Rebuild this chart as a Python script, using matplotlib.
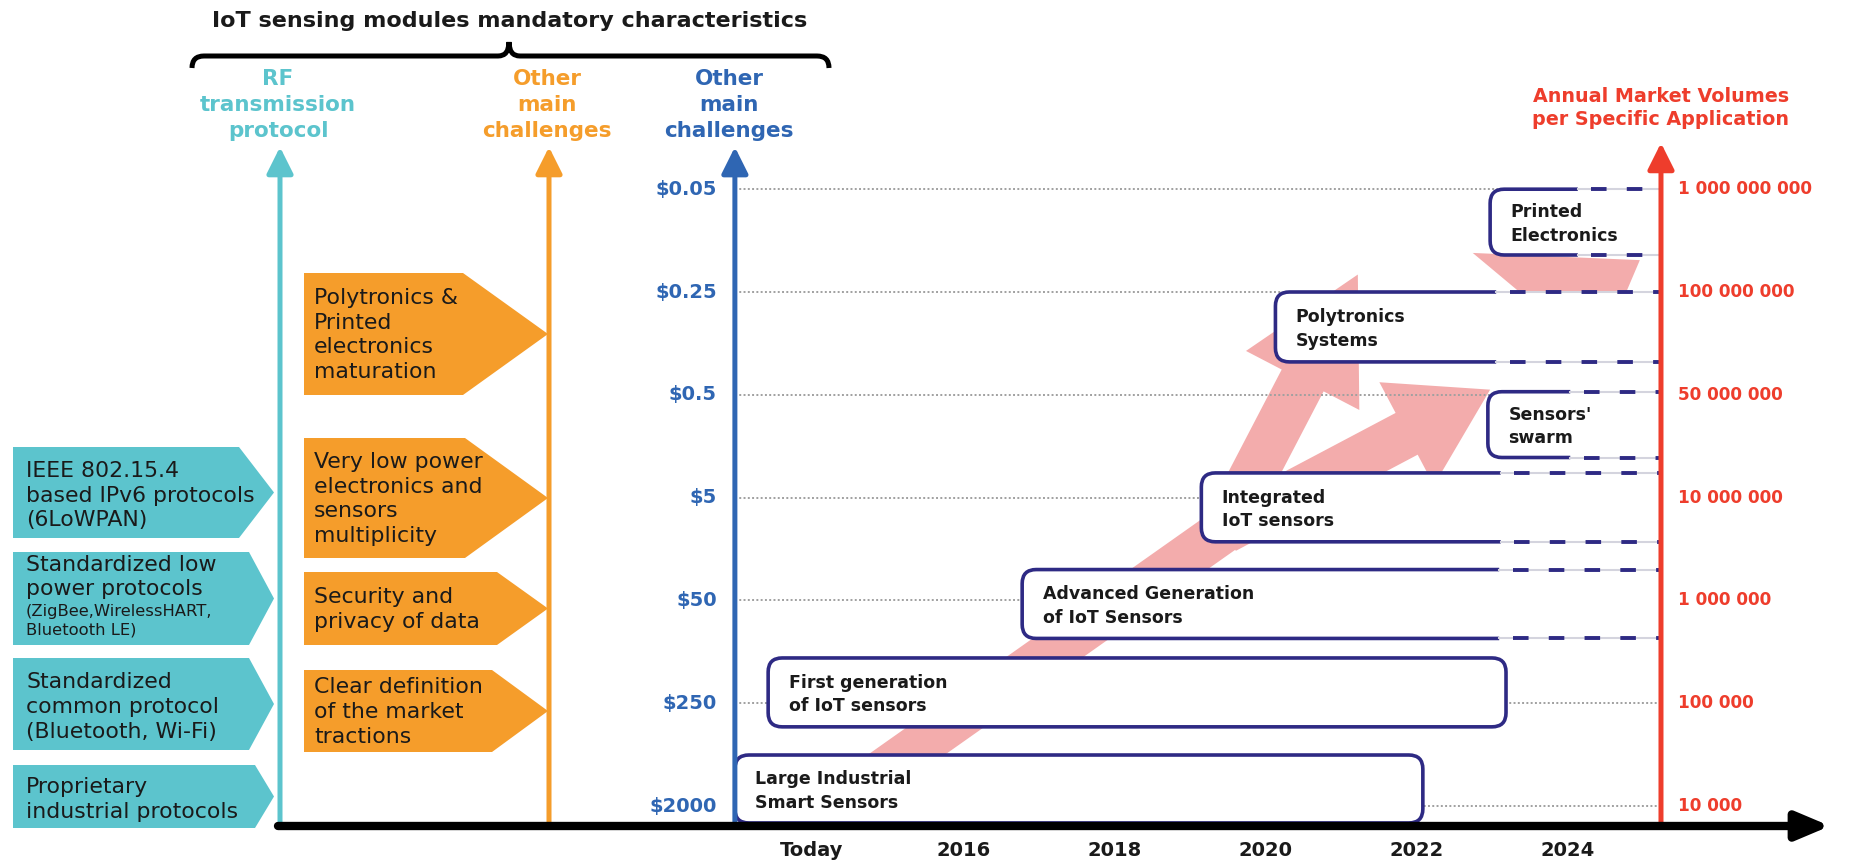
import matplotlib
matplotlib.use('Agg')
import matplotlib.pyplot as plt
from matplotlib.patches import FancyBboxPatch, Polygon, FancyArrowPatch, PathPatch
from matplotlib.path import Path

plt.rcParams['font.family'] = ['DejaVu Sans']

# ---------------- data ----------------
price_labels = ['$2000', '$250', '$50', '$5', '$0.5', '$0.25', '$0.05']
volume_labels = ['10 000', '100 000', '1 000 000', '10 000 000', '50 000 000',
                 '100 000 000', '1 000 000 000']
levels = [0, 1, 2, 3, 4, 5, 6]
year_ticks = [2014, 2016, 2018, 2020, 2022, 2024]
year_tick_labels = ['Today', '2016', '2018', '2020', '2022', '2024']

stage_labels = ['Large Industrial\nSmart Sensors', 'First generation\nof IoT sensors',
                'Advanced Generation\nof IoT Sensors', 'Integrated\nIoT sensors',
                "Sensors'\nswarm", 'Polytronics\nSystems', 'Printed\nElectronics']
stage_start = [2012.98, 2013.42, 2016.78, 2019.15, 2022.94, 2020.13, 2022.97]
stage_end = [2022.08, 2023.18, 2023.09, 2023.11, 2024.03, 2023.05, 2024.13]
stage_bottom = [-0.165, 0.77, 1.63, 2.57, 3.39, 4.32, 5.36]
stage_top = [0.496, 1.44, 2.30, 3.24, 4.03, 5.0, 6.0]
stage_open = [False, False, True, True, True, True, True]

trend_start = (2014.50, 0.11)
trend_split = (2019.46, 2.685)
trend_tips = [(2021.22, 5.17), (2022.97, 4.05)]
trend_wedge_x = [2022.74, 2024.95, 2024.40]
trend_wedge_y = [5.38, 5.31, 4.36]

rf_labels = ['Proprietary\nindustrial protocols',
             'Standardized\ncommon protocol\n(Bluetooth, Wi-Fi)',
             'Standardized low\npower protocols',
             'IEEE 802.15.4\nbased IPv6 protocols\n(6LoWPAN)']
rf_sublabels = ['', '', '(ZigBee,WirelessHART,\nBluetooth LE)', '']
challenge_labels = ['Clear definition\nof the market\ntractions',
                    'Security and\nprivacy of data',
                    'Very low power\nelectronics and\nsensors\nmultiplicity',
                    'Polytronics &\nPrinted\nelectronics\nmaturation']

# ---------------- styling / layout ----------------
W, H = 1850, 863
PX_TODAY, PX_PER_YEAR = 812, 75.6
PX_LEVEL0, PX_PER_LEVEL = 806, 102.8
BLUE_YEAR, RED_YEAR = 2012.98, 2025.23

CYAN = '#5CC4CD'
ORANGE = '#F59D2B'
BLUE = '#2F66B3'
RED = '#EE3D2C'
NAVY = '#2E2A84'
PINK = '#F3ACAC'
TXT = '#1A1A1A'

fig = plt.figure(figsize=(W / 100, H / 100), dpi=100)

# timeline axes: x in years, y in price / volume levels
ax = fig.add_axes([0, 0, 1, 1])
ax.set_xlim(2014 - PX_TODAY / PX_PER_YEAR, 2014 + (W - PX_TODAY) / PX_PER_YEAR)
ax.set_ylim((PX_LEVEL0 - H) / PX_PER_LEVEL, PX_LEVEL0 / PX_PER_LEVEL)
ax.axis('off')
ax.set_zorder(1)

# pixel axes for the left-hand panels
axp = fig.add_axes([0, 0, 1, 1])
axp.set_xlim(0, W)
axp.set_ylim(H, 0)
axp.axis('off')
axp.set_zorder(2)
axp.patch.set_alpha(0)

# ---------- pink trend arrows ----------
ax.plot([trend_start[0], trend_split[0]], [trend_start[1], trend_split[1]],
        color=PINK, lw=32, solid_capstyle='round', zorder=1)
for tip, hw, hl in zip(trend_tips, [92, 84], [86, 68]):
    ar = FancyArrowPatch(trend_split, tip,
                         arrowstyle=f'simple,head_length={hl},head_width={hw},tail_width=34',
                         mutation_scale=1, shrinkA=0, shrinkB=0,
                         color=PINK, lw=0, zorder=1)
    ax.add_patch(ar)
ax.add_patch(Polygon(list(zip(trend_wedge_x, trend_wedge_y)), closed=True,
                     fc=PINK, ec='none', zorder=1))

# ---------- dotted level lines ----------
for lv in levels:
    ax.plot([BLUE_YEAR, RED_YEAR], [lv, lv], color='#A0A0A0', lw=1.4,
            ls=(0, (1, 1.2)), zorder=2)

# ---------- stage boxes ----------
rx = 14 / PX_PER_YEAR
ry = 14 / PX_PER_LEVEL
asp = PX_PER_YEAR / PX_PER_LEVEL
for lab, x0, x1, y0, y1, op in zip(stage_labels, stage_start, stage_end,
                                    stage_bottom, stage_top, stage_open):
    h = y1 - y0
    if op:
        left = [(x0 + rx, y1), (x0, y1), (x0, y1 - ry), (x0, y0 + ry), (x0, y0), (x0 + rx, y0)]
        lcodes = [Path.LINETO, Path.CURVE3, Path.CURVE3, Path.LINETO, Path.CURVE3, Path.CURVE3]
        fill_path = Path([(RED_YEAR, y1)] + left + [(RED_YEAR, y0), (RED_YEAR, y1)],
                         [Path.MOVETO] + lcodes + [Path.LINETO, Path.CLOSEPOLY])
        ax.add_patch(PathPatch(fill_path, fc='white', ec='none', zorder=3))
        edge_path = Path([(x1, y1)] + left + [(x1, y0)],
                         [Path.MOVETO] + lcodes + [Path.LINETO])
        ax.add_patch(PathPatch(edge_path, fc='none', ec=NAVY, lw=2.6, zorder=4,
                               capstyle='butt'))
        for yy in (y0, y1):
            ax.plot([x1, RED_YEAR], [yy, yy], color='#D4D4DE', lw=1.5, zorder=4)
            ax.plot([x1 + 0.18, RED_YEAR], [yy, yy], color=NAVY, lw=2.8,
                    ls=(0, (4.0, 5.2)), zorder=4.5)
    else:
        box = FancyBboxPatch((x0, y0), x1 - x0, h,
                             boxstyle=f'round,pad=0,rounding_size={rx}',
                             mutation_aspect=asp, fc='white', ec=NAVY, lw=2.6, zorder=4)
        ax.add_patch(box)
    ax.text(x0 + 0.27, (y0 + y1) / 2 - 0.02, lab, ha='left', va='center',
            fontsize=12.5, fontweight='bold', color=TXT, linespacing=1.4, zorder=6)

# ---------- price & volume axes ----------
for lv, pl, vl in zip(levels, price_labels, volume_labels):
    ax.text(BLUE_YEAR - 0.24, lv, pl, ha='right', va='center', fontsize=14,
            fontweight='bold', color=BLUE, zorder=6)
    ax.text(RED_YEAR + 0.22, lv, vl, ha='left', va='center', fontsize=12.2,
            fontweight='bold', color=RED, zorder=6)

for yr_axis, top, col in [(BLUE_YEAR, 6.41, BLUE), (RED_YEAR, 6.45, RED)]:
    ax.annotate('', xy=(yr_axis, top), xytext=(yr_axis, -0.2),
                arrowprops=dict(arrowstyle='-|>,head_length=0.8,head_width=0.4',
                                mutation_scale=20, lw=3.6, color=col,
                                shrinkA=0, shrinkB=0), zorder=7)

for yr, yl in zip(year_ticks, year_tick_labels):
    ax.text(yr, -0.43, yl, ha='center', va='center', fontsize=14,
            fontweight='bold', color=TXT, zorder=6)

ax.text(RED_YEAR, 6.79, 'Annual Market Volumes\nper Specific Application',
        ha='center', va='center', fontsize=13.8, fontweight='bold', color=RED,
        linespacing=1.25)

# ---------- left panels (pixel layout) ----------
def pentagon(x0, x1, xt, y0, y1, color):
    axp.add_patch(Polygon([(x0, y0), (x1, y0), (xt, (y0 + y1) / 2), (x1, y1), (x0, y1)],
                          closed=True, fc=color, ec='none', zorder=2))

FS_BOX = 15.8
LS_BOX = 1.3
cyan_geo = [(765, 828, 255), (658, 750, 249), (552, 645, 249), (447, 538, 239)]
for lab, sub, (y0, y1, xr) in zip(rf_labels, rf_sublabels, cyan_geo):
    pentagon(13, xr, 274, y0, y1, CYAN)
    if sub:
        axp.text(26, y0 + 25, lab, ha='left', va='center', fontsize=FS_BOX,
                 color=TXT, linespacing=1.25, zorder=3)
        axp.text(26, y0 + 69, sub, ha='left', va='center', fontsize=11.8,
                 color=TXT, linespacing=1.3, zorder=3)
    else:
        axp.text(26, (y0 + y1) / 2 + 3, lab, ha='left', va='center', fontsize=FS_BOX,
                 color=TXT, linespacing=LS_BOX, zorder=3)

orange_geo = [(670, 752, 492), (572, 645, 497), (438, 558, 465), (273, 395, 463)]
for lab, (y0, y1, xr) in zip(challenge_labels, orange_geo):
    pentagon(304, xr, 548, y0, y1, ORANGE)
    axp.text(314, (y0 + y1) / 2 + 1, lab, ha='left', va='center', fontsize=FS_BOX,
             color=TXT, linespacing=LS_BOX, zorder=3)

# vertical arrows
for xx, col in [(280, CYAN), (549, ORANGE)]:
    axp.annotate('', xy=(xx, 147), xytext=(xx, 826),
                 arrowprops=dict(arrowstyle='-|>,head_length=0.8,head_width=0.4',
                                 mutation_scale=20, lw=3.6, color=col,
                                 shrinkA=0, shrinkB=0), zorder=4)

# time baseline
axp.annotate('', xy=(1830, 826), xytext=(278, 826),
             arrowprops=dict(arrowstyle='-|>,head_length=0.9,head_width=0.38',
                             mutation_scale=22, lw=6, color='black',
                             shrinkA=0, shrinkB=0), zorder=5)

# headings
for xx, col in [(278, CYAN), (547, ORANGE), (729, BLUE)]:
    txt = 'RF\ntransmission\nprotocol' if col == CYAN else 'Other\nmain\nchallenges'
    axp.text(xx, 105, txt, ha='center', va='center', fontsize=15.5,
             fontweight='bold', color=col, linespacing=1.38)

# brace + title
verts = [(192, 68), (192, 56), (204, 56), (498, 56), (509, 56), (509, 42),
         (509, 56), (520, 56), (817, 56), (829, 56), (829, 68)]
codes = [Path.MOVETO, Path.CURVE3, Path.CURVE3, Path.LINETO, Path.CURVE3, Path.CURVE3,
         Path.CURVE3, Path.CURVE3, Path.LINETO, Path.CURVE3, Path.CURVE3]
axp.add_patch(PathPatch(Path(verts, codes), fc='none', ec='black', lw=3.6))
axp.text(510, 21, 'IoT sensing modules mandatory characteristics', ha='center',
         va='center', fontsize=16, fontweight='bold', color=TXT)

fig.savefig('out.png', dpi=100)
